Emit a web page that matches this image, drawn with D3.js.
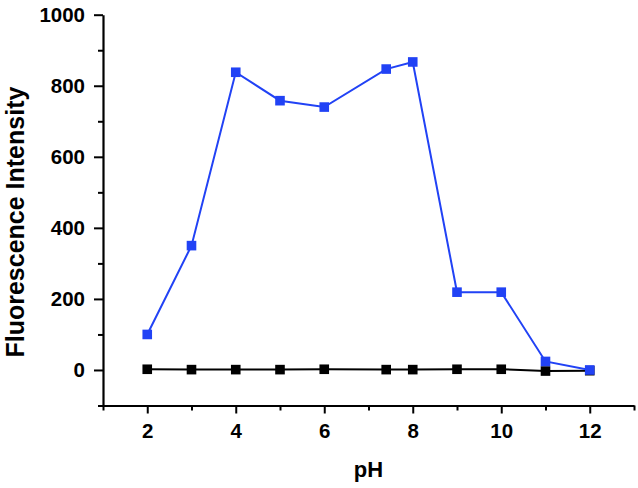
<!DOCTYPE html>
<html>
<head>
<meta charset="utf-8">
<script src="https://cdn.jsdelivr.net/npm/d3@7"></script>
<style>
html,body{margin:0;padding:0;background:#fff;}
svg{display:block;}
text{font-family:"Liberation Sans",Arial,sans-serif;font-weight:bold;fill:#000;}
</style>
</head>
<body>
<svg id="chart" width="638" height="488"></svg>
<script>
const pH = [2, 3, 4, 5, 6, 7.4, 8, 9, 10, 11, 12];
const blueValues = [100, 350, 838, 758, 740, 847, 867, 219, 219, 24, 0];
const blackValues = [2, 1, 1, 1, 2, 1, 1, 2, 2, -3, -2];
const xMajorTicks = [2, 4, 6, 8, 10, 12];
const xMinorTicks = [1, 3, 5, 7, 9, 11, 13];
const yMajorTicks = [0, 200, 400, 600, 800, 1000];
const yMinorTicks = [-100, 100, 300, 500, 700, 900];

const svg = d3.select("#chart");
const x = d3.scaleLinear().domain([1, 13]).range([103, 634]);
const y = d3.scaleLinear().domain([-100, 1000]).range([405.5, 14.7]);

const axisColor = "#000";
// x axis
const gx = svg.append("g").attr("transform", `translate(0,${y(-100)})`);
gx.call(d3.axisBottom(x).tickValues(xMinorTicks).tickSize(5).tickFormat(""));
gx.call(g => g.select(".domain").remove());
const gx2 = svg.append("g").attr("transform", `translate(0,${y(-100)})`);
gx2.call(d3.axisBottom(x).tickValues(xMajorTicks).tickSize(8).tickPadding(10).tickSizeOuter(0).tickFormat(d3.format("d")));
gx2.selectAll(".tick text").attr("font-size", 20.5).attr("dy", "0.72em");

// y axis
const gy = svg.append("g").attr("transform", `translate(${x(1)},0)`);
gy.call(d3.axisLeft(y).tickValues(yMinorTicks).tickSize(5).tickFormat(""));
gy.call(g => g.select(".domain").remove());
const gy2 = svg.append("g").attr("transform", `translate(${x(1)},0)`);
gy2.call(d3.axisLeft(y).tickValues(yMajorTicks).tickSize(9).tickPadding(9).tickSizeOuter(0).tickFormat(d3.format("d")));
gy2.selectAll(".tick text").attr("font-size", 20.5);

svg.selectAll(".domain").attr("stroke-width", 2.2).attr("stroke", axisColor);
svg.selectAll(".tick line").attr("stroke-width", 2).attr("stroke", axisColor);
svg.selectAll("g").attr("font-family", null);

// axis labels
svg.append("text")
  .attr("x", x(7)).attr("y", 477)
  .attr("text-anchor", "middle").attr("font-size", 22)
  .text("pH");
svg.append("text")
  .attr("transform", `translate(24,${(y(-100)+y(1000))/2 + 12}) rotate(-90)`)
  .attr("text-anchor", "middle").attr("font-size", 25)
  .text("Fluorescence Intensity");

const line = d3.line().x(d => x(d[0])).y(d => y(d[1]));
const blackData = pH.map((p, i) => [p, blackValues[i]]);
const blueData = pH.map((p, i) => [p, blueValues[i]]);

function drawSeries(data, color) {
  svg.append("path").datum(data)
    .attr("d", line).attr("fill", "none")
    .attr("stroke", color).attr("stroke-width", 2);
  svg.append("g").selectAll("rect").data(data).join("rect")
    .attr("x", d => x(d[0]) - 4.8).attr("y", d => y(d[1]) - 4.8)
    .attr("width", 9.6).attr("height", 9.6)
    .attr("fill", color);
}
drawSeries(blackData, "#000");
drawSeries(blueData, "#2142f5");
</script>
</body>
</html>
